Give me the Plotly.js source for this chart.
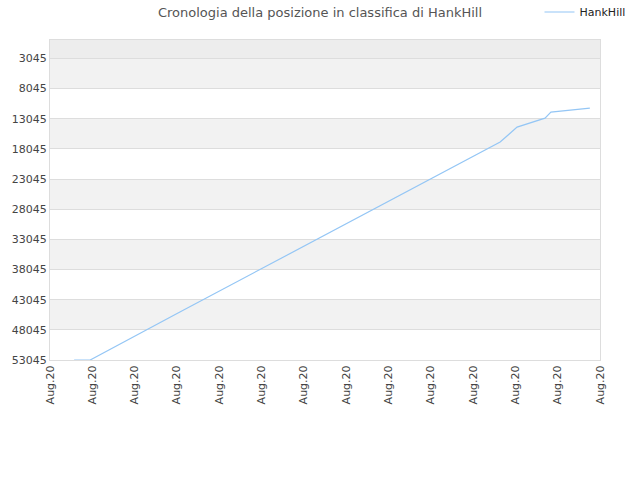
<!DOCTYPE html>
<html>
<head>
<meta charset="utf-8">
<script src="https://cdn.plot.ly/plotly-3.0.1.min.js"></script>
<style>
  body { margin: 0; background: #fff; }
  #chart { width: 640px; height: 480px; }
</style>
</head>
<body>
<div id="chart"></div>
<script>
// position in ranking over time (x = tick index, labels all Aug.20)
var xIdx = [0.57, 0.95, 3.07, 5.91, 8.51, 10.64, 11.04, 11.70, 11.84, 12.76];
var rank = [53045, 53045, 45090, 34490, 24780, 16920, 14440, 12950, 11950, 11290];

var tickLabels = ['Aug.20', 'Aug.20', 'Aug.20', 'Aug.20', 'Aug.20', 'Aug.20', 'Aug.20',
                  'Aug.20', 'Aug.20', 'Aug.20', 'Aug.20', 'Aug.20', 'Aug.20', 'Aug.20'];
var yTicks = [3045, 8045, 13045, 18045, 23045, 28045, 33045, 38045, 43045, 48045, 53045];
var yTop = 0;

// alternating bands
var shapes = [{
    type: 'rect', xref: 'paper', yref: 'y', x0: 0, x1: 1, y0: yTop, y1: yTicks[0],
    fillcolor: '#ededed', line: {width: 0}, layer: 'below'
}];
for (var i = 0; i < yTicks.length - 1; i += 2) {
    shapes.push({
        type: 'rect', xref: 'paper', yref: 'y', x0: 0, x1: 1,
        y0: yTicks[i], y1: yTicks[i + 1],
        fillcolor: '#f2f2f2', line: {width: 0}, layer: 'below'
    });
}

Plotly.newPlot('chart', [{
    x: xIdx,
    y: rank,
    mode: 'lines',
    type: 'scatter',
    name: 'HankHill',
    line: {color: '#94c6f5', width: 1.2}
}], {
    width: 640,
    height: 480,
    margin: {l: 50, r: 40, t: 40, b: 120},
    paper_bgcolor: '#ffffff',
    plot_bgcolor: '#ffffff',
    font: {family: 'DejaVu Sans, sans-serif', size: 11, color: '#444444'},
    title: {
        text: 'Cronologia della posizione in classifica di HankHill',
        font: {size: 13, color: '#555555'},
        x: 0.5, xanchor: 'center', y: 0.975, yanchor: 'middle'
    },
    showlegend: true,
    legend: {
        xref: 'paper', yref: 'container',
        x: 0.89, xanchor: 'left', y: 0.975, yanchor: 'middle',
        font: {size: 11, color: '#222222'},
        bgcolor: 'rgba(0,0,0,0)'
    },
    shapes: shapes,
    xaxis: {
        range: [0, 13],
        tickvals: tickLabels.map(function (d, i) { return i; }),
        ticktext: tickLabels,
        tickangle: -90,
        showgrid: false,
        zeroline: false,
        showline: true,
        mirror: true,
        linecolor: '#dddddd',
        ticks: '',
        tickfont: {size: 11, color: '#444444'}
    },
    yaxis: {
        range: [53045, yTop],
        tickvals: yTicks,
        ticktext: yTicks.map(String),
        showgrid: true,
        gridcolor: '#dddddd',
        zeroline: false,
        showline: true,
        mirror: true,
        linecolor: '#dddddd',
        ticks: '',
        tickfont: {size: 11, color: '#444444'}
    }
}, {displayModeBar: false, staticPlot: true});
</script>
</body>
</html>
